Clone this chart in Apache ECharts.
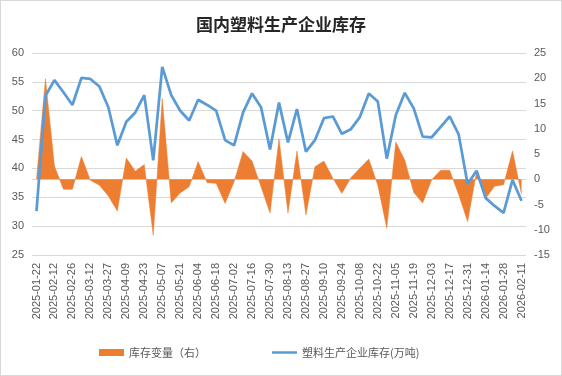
<!DOCTYPE html>
<html>
<head>
<meta charset="utf-8">
<script src="https://cdn.jsdelivr.net/npm/echarts@6/dist/echarts.min.js"></script>
<style>
  html, body { margin: 0; padding: 0; background: #fff; }
  #main { width: 562px; height: 376px; box-sizing: border-box; border: 1px solid #d9d9d9; }
</style>
</head>
<body>
<div id="main"></div>
<script>
// 周度日期（类目轴）
var dates = [
  '2025-01-22', '2025-02-05', '2025-02-12', '2025-02-19', '2025-02-26', '2025-03-05',
  '2025-03-12', '2025-03-19', '2025-03-27', '2025-04-02', '2025-04-09', '2025-04-16',
  '2025-04-23', '2025-04-30', '2025-05-07', '2025-05-14', '2025-05-21', '2025-05-28',
  '2025-06-04', '2025-06-11', '2025-06-18', '2025-06-25', '2025-07-02', '2025-07-09',
  '2025-07-16', '2025-07-23', '2025-07-30', '2025-08-06', '2025-08-13', '2025-08-20',
  '2025-08-27', '2025-09-03', '2025-09-10', '2025-09-17', '2025-09-24', '2025-09-30',
  '2025-10-08', '2025-10-15', '2025-10-22', '2025-10-29', '2025-11-05', '2025-11-12',
  '2025-11-19', '2025-11-26', '2025-12-03', '2025-12-10', '2025-12-17', '2025-12-24',
  '2025-12-31', '2026-01-07', '2026-01-14', '2026-01-21', '2026-01-28', '2026-02-04',
  '2026-02-11'
];

// 塑料生产企业库存(万吨)，左轴
var stock = [
  32.6, 52.6, 55.3, 53.2, 51.0, 55.7, 55.5, 54.2, 50.6, 44.0, 48.1, 49.7,
  52.7, 41.4, 57.6, 52.7, 50.0, 48.3, 51.9, 51.0, 50.0, 44.9, 44.0, 49.7,
  53.0, 50.6, 43.3, 51.4, 44.5, 50.3, 42.9, 44.9, 48.7, 49.0, 46.0, 46.8,
  48.9, 53.0, 51.6, 41.7, 49.2, 53.1, 50.4, 45.5, 45.4, 47.2, 49.0, 45.9,
  37.3, 39.6, 34.9, 33.5, 32.3, 38.0, 34.4
];

// 库存变量，右轴
var change = [
  0, 19.9, 2.6, -2.0, -2.0, 4.5, -0.2, -1.2, -3.3, -6.3, 4.2, 1.6,
  2.9, -11.1, 16.0, -4.7, -2.7, -1.5, 3.5, -0.7, -0.8, -4.8, -0.5, 5.5,
  3.6, -1.5, -6.7, 8.0, -6.7, 5.6, -7.1, 2.5, 3.6, 0.2, -2.8, 0.3,
  2.2, 4.0, -1.2, -9.7, 7.4, 3.8, -2.6, -4.7, -0.1, 1.8, 1.8, -3.0,
  -8.4, 1.5, -3.8, -1.4, -1.1, 5.6, -3.0
];

var myChart = echarts.init(document.getElementById('main'));

// 图例里的细线图标（上下留白，保持与矩形图标同高）
var lineIcon = 'path://M0,0L25,0L25,0.01Z M0,2.2L25,2.2L25,4.8L0,4.8Z M0,7L25,7L25,6.99Z';

var option = {
  animation: false,
  title: {
    text: '国内塑料生产企业库存',
    left: 'center',
    top: 10,
    textStyle: {
      fontFamily: 'Noto Sans CJK SC',
      fontSize: 17,
      fontWeight: 'bold',
      color: '#262626'
    }
  },
  legend: {
    left: 93,
    top: 341,
    itemGap: 66,
    itemWidth: 25,
    itemHeight: 7,
    textStyle: { fontSize: 11, color: '#595959', fontFamily: 'Noto Sans CJK SC' },
    data: [
      { name: '库存变量（右）', icon: 'rect' },
      { name: '塑料生产企业库存(万吨)', icon: lineIcon }
    ]
  },
  grid: { left: 31, right: 35, top: 52, bottom: 120 },
  xAxis: {
    type: 'category',
    data: dates,
    boundaryGap: true,
    axisLine: { lineStyle: { color: '#d9d9d9' } },
    axisTick: { show: false },
    axisLabel: {
      interval: 1,
      rotate: 90,
      margin: 8,
      fontSize: 11,
      color: '#595959',
      fontFamily: 'Liberation Sans'
    }
  },
  yAxis: [
    {
      type: 'value',
      min: 25,
      max: 60,
      interval: 5,
      axisLine: { show: false },
      axisTick: { show: false },
      splitLine: { lineStyle: { color: '#d9d9d9' } },
      axisLabel: { fontSize: 11, color: '#595959', margin: 8, fontFamily: 'Liberation Sans' }
    },
    {
      type: 'value',
      min: -15,
      max: 25,
      interval: 5,
      axisLine: { show: false },
      axisTick: { show: false },
      splitLine: { show: false },
      axisLabel: { fontSize: 11, color: '#595959', margin: 8, fontFamily: 'Liberation Sans' }
    }
  ],
  series: [
    {
      name: '库存变量（右）',
      type: 'line',
      yAxisIndex: 1,
      data: change,
      symbol: 'none',
      color: '#ED7D31',
      lineStyle: { width: 0.5, color: '#ED7D31' },
      areaStyle: { color: '#ED7D31', opacity: 1, origin: 0 },
      z: 2
    },
    {
      name: '塑料生产企业库存(万吨)',
      type: 'line',
      yAxisIndex: 0,
      data: stock,
      symbol: 'none',
      color: '#5B9BD5',
      lineStyle: { width: 2.75, color: '#5B9BD5' },
      z: 3
    }
  ]
};

myChart.clear();
myChart.setOption(option);
</script>
</body>
</html>
